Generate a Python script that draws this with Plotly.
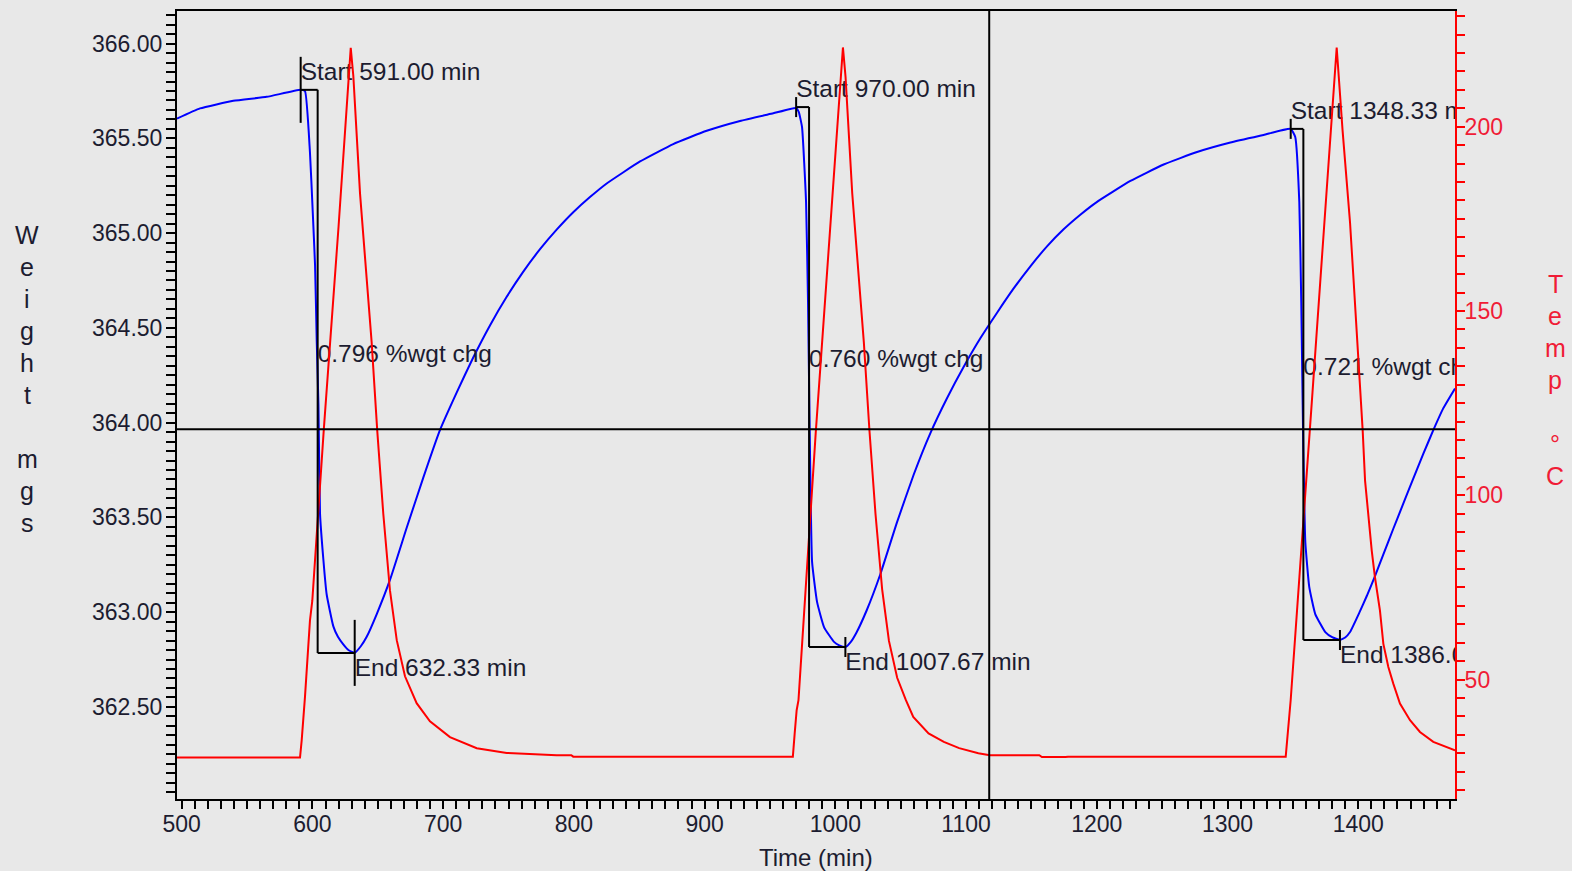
import plotly.graph_objects as go

# ---------------- data ----------------
# Weight (mg), blue trace, split per cycle
w_time_c1 = [496.4, 514.0, 539.5, 565.0, 591.0, 594.3, 598.1, 600.2, 602.0, 603.3, 604.6, 605.8,
             608.3, 610.9, 616.0, 619.5, 623.6, 627.5, 632.3, 637.0, 641.5, 649.2, 659.3, 672.1,
             684.8, 697.6, 710.4, 723.1, 735.8, 748.6, 761.3, 774.1, 786.8, 799.5, 812.3, 825.1,
             850.6, 876.0, 901.6, 927.1, 952.5, 970.0]
w_mg_c1 = [365.604, 365.658, 365.698, 365.719, 365.756, 365.749, 365.427, 365.117, 364.831, 364.426,
           364.093, 363.520, 363.283, 363.093, 362.925, 362.870, 362.830, 362.800, 362.785, 362.820,
           362.870, 362.990, 363.170, 363.445, 363.710, 363.962, 364.160, 364.345, 364.513, 364.664,
           364.797, 364.915, 365.018, 365.110, 365.190, 365.262, 365.378, 365.470, 365.540, 365.592,
           365.632, 365.660]

w_time_c2 = [972.0, 974.5, 977.6, 979.1, 980.6, 982.2, 986.0, 991.4, 999.0, 1003.0, 1007.7, 1012.0,
             1016.0, 1024.0, 1034.4, 1047.2, 1059.9, 1072.7, 1085.5, 1098.2, 1110.9, 1123.7, 1136.4,
             1149.2, 1161.9, 1174.6, 1187.4, 1200.2, 1225.7, 1251.1, 1276.7, 1302.2, 1327.6, 1348.3]
w_mg_c2 = [365.640, 365.560, 365.164, 364.636, 363.846, 363.265, 363.054, 362.920, 362.843, 362.825,
           362.816, 362.845, 362.890, 363.010, 363.200, 363.475, 363.725, 363.945, 364.130, 364.295,
           364.445, 364.580, 364.708, 364.825, 364.930, 365.020, 365.097, 365.165, 365.275, 365.362,
           365.428, 365.478, 365.518, 365.550]

w_time_c3 = [1351.8, 1354.9, 1356.4, 1358.0, 1359.5, 1362.5, 1367.1, 1374.8, 1380.0, 1386.0, 1390.0,
             1393.7, 1401.0, 1406.5, 1412.8, 1419.2, 1426.8, 1433.0, 1439.6, 1449.8, 1457.4, 1465.0,
             1474.0]
w_mg_c3 = [365.507, 365.164, 364.636, 363.846, 363.370, 363.133, 362.990, 362.895, 362.868, 362.853,
           362.866, 362.895, 363.000, 363.085, 363.190, 363.305, 363.440, 363.548, 363.662, 363.836,
           363.960, 364.075, 364.180]

# Temperature (deg C), red trace, split per cycle
t_time_c1 = [496.4, 590.5, 591.8, 594.3, 598.1, 599.9, 608.7, 620.0, 629.3, 631.3, 636.4, 641.5,
             645.3, 649.6, 654.2, 659.3, 664.5, 670.8, 679.7, 689.9, 705.2, 725.7, 748.6, 786.8,
             798.0, 799.5, 967.5]
temp_c1 = [28.9, 28.9, 33.6, 45.3, 66.0, 71.4, 117.9, 173.0, 221.4, 213.7, 181.9, 158.6, 141.5,
           117.4, 95.0, 74.2, 60.7, 50.9, 43.6, 38.7, 34.4, 31.4, 30.1, 29.5, 29.5, 29.1, 29.1]

t_time_c2 = [968.9, 970.4, 971.8, 985.0, 1005.8, 1007.8, 1012.9, 1018.0, 1021.8, 1026.1, 1030.7,
             1035.8, 1041.0, 1047.3, 1053.9, 1059.6, 1071.3, 1083.0, 1094.7, 1109.4, 1118.2, 1156.0,
             1158.0, 1176.0, 1178.0, 1344.5]
temp_c2 = [35.4, 41.7, 44.4, 117.0, 221.5, 213.5, 182.0, 158.5, 141.5, 117.5, 95.0, 74.5, 60.5,
           50.5, 44.5, 39.9, 35.4, 33.1, 31.4, 30.0, 29.5, 29.5, 29.0, 29.0, 29.1, 29.1]

t_time_c3 = [1345.3, 1346.5, 1347.8, 1348.3, 1365.0, 1383.5, 1388.0, 1393.7, 1396.2, 1398.8, 1401.3,
             1403.4, 1405.2, 1407.7, 1410.3, 1412.8, 1416.6, 1419.2, 1423.0, 1426.8, 1431.9, 1439.6,
             1447.2, 1457.4, 1472.7, 1474.0]
temp_c3 = [32.7, 37.2, 41.7, 44.4, 128.0, 221.5, 199.0, 174.0, 159.7, 145.0, 131.0, 117.4, 104.0,
           94.0, 85.0, 77.7, 68.7, 59.7, 53.4, 48.9, 43.5, 39.0, 35.8, 33.1, 30.9, 30.8]

# Step analysis (start / end markers and % weight change)
seg_start_time = [591.00, 970.00, 1348.33]
seg_end_time = [632.33, 1007.67, 1386.00]
seg_start_mg = [365.756, 365.665, 365.550]
seg_end_mg = [362.785, 362.816, 362.853]
seg_step_time = [604.0, 979.9, 1358.0]
seg_pct_chg = [0.796, 0.760, 0.721]

# Cursor cross-hair
cursor_time = 1117.7
cursor_mg = 363.965

# ---------------- layout constants ----------------
W, H = 1572, 871
M_L, M_R, M_T, M_B = 177, 117, 9, 72
PLOT_H = H - M_T - M_B
X_RANGE = [496.4, 1474.0]
Y_RANGE = [362.014, 366.172]
Y2_RANGE = [17.61, 231.39]
MG_PER_PX = (Y_RANGE[1] - Y_RANGE[0]) / PLOT_H

BG = "#e8e8e8"
TXT = "#1c1c30"
RED = "#ff0000"
RED_TXT = "#f01c36"
BLUE = "#0000ff"
FONT = "Liberation Sans, Arial, sans-serif"

fig = go.Figure()

w_time = w_time_c1 + w_time_c2 + w_time_c3
w_mg = w_mg_c1 + w_mg_c2 + w_mg_c3
t_time = t_time_c1 + t_time_c2 + t_time_c3
temp = temp_c1 + temp_c2 + temp_c3

fig.add_trace(go.Scatter(x=w_time, y=w_mg, mode="lines",
                         line=dict(color=BLUE, width=2, shape="spline", smoothing=0.4),
                         yaxis="y", hoverinfo="skip"))
fig.add_trace(go.Scatter(x=t_time, y=temp, mode="lines", line=dict(color=RED, width=2),
                         yaxis="y2", hoverinfo="skip"))

# Labels (text traces so they are clipped by the plot area)
lab_x, lab_y, lab_t = [], [], []
for s, e, sw, ew, mt, p in zip(seg_start_time, seg_end_time, seg_start_mg, seg_end_mg,
                               seg_step_time, seg_pct_chg):
    lab_x += [s, mt, e]
    lab_y += [sw + 16 * MG_PER_PX, (sw + ew) / 2 + 16 * MG_PER_PX, ew - 17 * MG_PER_PX]
    lab_t += [f"Start {s:.2f} min", f"{p:.3f} %wgt chg", f"End {e:.2f} min"]
fig.add_trace(go.Scatter(x=lab_x, y=lab_y, text=lab_t, mode="text", textposition="middle right",
                         textfont=dict(family=FONT, size=24.5, color=TXT), cliponaxis=True,
                         yaxis="y", hoverinfo="skip"))

shapes = []
line_k = dict(color="black", width=2)
tick_half = [33, 10, 10]
for i, (s, e, sw, ew, mt) in enumerate(zip(seg_start_time, seg_end_time, seg_start_mg,
                                           seg_end_mg, seg_step_time)):
    shapes.append(dict(type="line", xref="x", yref="y", x0=s, x1=mt, y0=sw, y1=sw, line=line_k))
    shapes.append(dict(type="line", xref="x", yref="y", x0=mt, x1=mt, y0=sw, y1=ew, line=line_k))
    shapes.append(dict(type="line", xref="x", yref="y", x0=mt, x1=e, y0=ew, y1=ew, line=line_k))
    for tx, ty in ((s, sw), (e, ew)):
        shapes.append(dict(type="line", xref="x", yref="y", ysizemode="pixel", yanchor=ty,
                           x0=tx, x1=tx, y0=-tick_half[i], y1=tick_half[i], line=line_k))
# cross-hair cursor
shapes.append(dict(type="line", xref="paper", yref="y", x0=0, x1=1, y0=cursor_mg, y1=cursor_mg,
                   line=line_k))
shapes.append(dict(type="line", xref="x", yref="paper", x0=cursor_time, x1=cursor_time, y0=0, y1=1,
                   line=line_k))

annotations = []
weight_letters = ["W", "e", "i", "g", "h", "t", "", "m", "g", "s"]
for i, ch in enumerate(weight_letters):
    if ch:
        annotations.append(dict(text=ch, xref="paper", yref="paper", x=0, y=1, xanchor="center",
                                yanchor="middle", xshift=27 - M_L, yshift=-(233 + 32 * i - M_T),
                                showarrow=False, font=dict(family=FONT, size=25, color=TXT)))
temp_letters = ["T", "e", "m", "p", "", "°", "C"]
for i, ch in enumerate(temp_letters):
    if ch:
        annotations.append(dict(text=ch, xref="paper", yref="paper", x=1, y=1, xanchor="center",
                                yanchor="middle", xshift=1555 - (W - M_R),
                                yshift=-(282 + 32 * i - M_T), showarrow=False,
                                font=dict(family=FONT, size=25, color=RED_TXT)))
annotations.append(dict(text="Time (min)", xref="paper", yref="paper", x=0.5, y=0, xanchor="center",
                        yanchor="middle", yshift=-(857 - (H - M_B)), showarrow=False,
                        font=dict(family=FONT, size=24, color=TXT)))

fig.update_layout(
    width=W, height=H,
    margin=dict(l=M_L, r=M_R, t=M_T, b=M_B, pad=0),
    paper_bgcolor=BG, plot_bgcolor=BG,
    showlegend=False,
    font=dict(family=FONT, size=23, color=TXT),
    shapes=shapes,
    annotations=annotations,
    xaxis=dict(range=X_RANGE, tick0=0, dtick=100, ticks="outside", ticklen=8, tickwidth=2,
               tickcolor="black", showline=True, linecolor="black", linewidth=2, mirror=True,
               showgrid=False, zeroline=False, ticklabelstandoff=-5,
               tickfont=dict(family=FONT, size=23, color=TXT),
               minor=dict(tick0=0, dtick=10, ticks="outside", ticklen=8, tickwidth=2,
                          tickcolor="black", showgrid=False)),
    yaxis=dict(range=Y_RANGE, tick0=0, dtick=0.5, tickformat=".2f", ticks="outside", ticklen=9,
               tickwidth=2, tickcolor="black", showline=True, linecolor="black", linewidth=2,
               showgrid=False, zeroline=False, ticklabelstandoff=-1,
               tickfont=dict(family=FONT, size=23, color=TXT),
               minor=dict(tick0=0, dtick=0.05, ticks="outside", ticklen=9, tickwidth=2,
                          tickcolor="black", showgrid=False)),
    yaxis2=dict(range=Y2_RANGE, overlaying="y", side="right", tick0=0, dtick=50, ticks="outside",
                ticklen=8, tickwidth=2, tickcolor=RED, showline=True, linecolor=RED, linewidth=2,
                showgrid=False, zeroline=False, ticklabelstandoff=-5,
                tickfont=dict(family=FONT, size=23, color=RED_TXT),
                minor=dict(tick0=0, dtick=5, ticks="outside", ticklen=8, tickwidth=2,
                           tickcolor=RED, showgrid=False)),
)

fig.write_html("out.html", config={"displayModeBar": False},
               post_script="document.body.style.margin='0';document.body.style.padding='0';"
                           "document.body.style.background='" + BG + "';"
                           "document.body.style.overflow='hidden';")
